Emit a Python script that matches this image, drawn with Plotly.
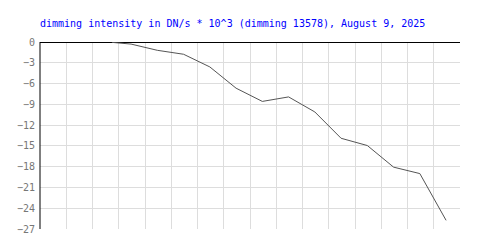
import plotly.graph_objects as go

# x in grid-interval units (16 intervals across the plot), y in DN/s * 10^3
x_vals = [2.74, 3.47, 4.47, 5.47, 6.47, 7.47, 8.47, 9.47, 10.47, 11.47, 12.47, 13.47, 14.47, 15.47]
y_vals = [-0.05, -0.3, -1.2, -1.77, -3.6, -6.67, -8.58, -7.93, -10.1, -13.9, -14.95, -18.07, -19.0, -25.75]
y_ticks = [0, -3, -6, -9, -12, -15, -18, -21, -24, -27]
title_text = "dimming intensity in DN/s * 10^3 (dimming 13578), August 9, 2025"

mono = "DejaVu Sans Mono"

fig = go.Figure()
fig.add_trace(go.Scatter(x=x_vals, y=y_vals, mode="lines",
                         line=dict(color="#555555", width=1), hoverinfo="skip"))

fig.update_layout(
    width=500, height=250,
    margin=dict(l=40, r=40, t=42, b=21),
    paper_bgcolor="white", plot_bgcolor="white",
    showlegend=False,
    title=dict(text=title_text, x=0, xanchor="left", xref="paper",
               y=1 - 23/250, yanchor="middle",
               font=dict(family=mono, size=10, color="#0000ff")),
    font=dict(family=mono, size=10, color="#777777"),
)
fig.update_xaxes(range=[0, 16], dtick=1, tick0=0, showticklabels=False,
                 showgrid=True, gridcolor="#dddddd", gridwidth=1,
                 zeroline=False, showline=False, ticks="")
fig.update_yaxes(range=[-27, 0], tickvals=y_ticks,
                 ticktext=[str(v).replace("-", "\u2212") for v in y_ticks],
                 showgrid=True, gridcolor="#dddddd", gridwidth=1,
                 zeroline=True, zerolinecolor="black", zerolinewidth=1,
                 showline=False, ticks="", ticklabelstandoff=4,
                 tickfont=dict(family=mono, size=10, color="#777777"))
fig.add_shape(type="line", xref="paper", yref="paper", x0=0, x1=0, y0=0, y1=1,
              line=dict(color="black", width=1))

fig.write_html("out.html")
